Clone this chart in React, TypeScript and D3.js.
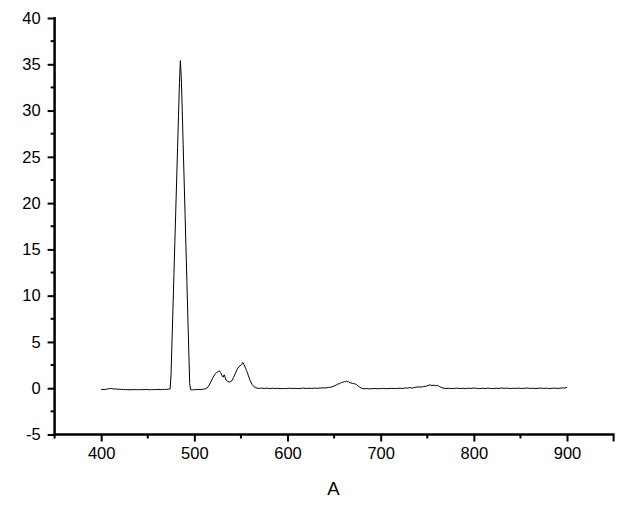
import { useEffect, useRef } from 'react';
import * as d3 from 'd3';

// [wavelength, intensity]
const SPECTRUM: [number, number][] = [
  [400, -0.15], [402, -0.12], [404, -0.14], [406, -0.1], [408, -0.06], [410, -0.02],
  [412, -0.05], [414, -0.09], [416, -0.07], [418, -0.12], [420, -0.1], [422, -0.14],
  [424, -0.13], [426, -0.16], [428, -0.14], [430, -0.17], [432, -0.15], [434, -0.17],
  [436, -0.14], [438, -0.16], [440, -0.15], [442, -0.17], [444, -0.14], [446, -0.16],
  [448, -0.13], [450, -0.15], [452, -0.17], [454, -0.14], [456, -0.16], [458, -0.13],
  [460, -0.15], [462, -0.12], [464, -0.15], [466, -0.13], [468, -0.14], [470, -0.12],
  [472, -0.1], [474, -0.08],
  [475, 1.5], [476, 5], [477, 8.5], [478, 12], [479, 15.5], [480, 19], [481, 22.5],
  [482, 26], [483, 29.5], [484, 33], [485, 35.4], [486, 33.5], [487, 30], [488, 26.3],
  [489, 22.6], [490, 18.9], [491, 15.2], [492, 11.5], [493, 7.8], [494, 4.1], [495, 0.5],
  [496, -0.15], [498, -0.18], [500, -0.16], [502, -0.14], [504, -0.15], [506, -0.12],
  [508, -0.13], [510, -0.1], [512, -0.05], [514, 0.05], [516, 0.35], [518, 0.75],
  [520, 1.15], [522, 1.5], [524, 1.7], [526, 1.82], [527, 1.88], [528, 1.7], [529, 1.55],
  [530, 1.3], [531, 1.2], [532, 1.45], [533, 1.2], [534, 0.9], [536, 0.72], [538, 0.66],
  [540, 0.78], [542, 1.15], [544, 1.6], [546, 2.05], [548, 2.35], [550, 2.48], [551, 2.6],
  [552, 2.78], [553, 2.6], [554, 2.4], [555, 2.15], [556, 1.9], [557, 1.7], [558, 1.35],
  [560, 0.8], [562, 0.4], [564, 0.15], [566, 0.05], [568, 0], [570, -0.02],
  [572, 0.02], [575, -0.03], [578, 0.01], [581, -0.04], [584, 0], [587, -0.03],
  [590, -0.01], [593, -0.05], [596, -0.02], [599, -0.04], [602, 0], [605, -0.03],
  [608, -0.01], [611, -0.04], [614, -0.02], [617, 0.01], [620, -0.03], [623, 0],
  [626, -0.02], [629, 0.01], [632, -0.01], [635, 0.02], [638, 0.04], [641, 0.03],
  [644, 0.08], [647, 0.12], [650, 0.25], [652, 0.32], [654, 0.45], [656, 0.5],
  [658, 0.62], [660, 0.66], [661, 0.72], [662, 0.68], [663, 0.78], [664, 0.7],
  [665, 0.74], [666, 0.62], [668, 0.58], [670, 0.52], [672, 0.48], [674, 0.4],
  [676, 0.22], [678, 0.08], [680, -0.02], [682, -0.06], [685, -0.04], [688, -0.07],
  [691, -0.05], [694, -0.03], [697, -0.06], [700, -0.04], [703, -0.02], [706, -0.05],
  [709, -0.03], [712, -0.01], [715, -0.04], [718, -0.02], [721, 0], [724, -0.03],
  [726, 0.04], [728, 0], [731, 0.06], [734, 0.02], [737, 0.1], [740, 0.14],
  [743, 0.12], [746, 0.18], [749, 0.22], [751, 0.3], [753, 0.36], [755, 0.28],
  [757, 0.34], [759, 0.26], [761, 0.3], [763, 0.18], [765, 0.08], [767, 0.02],
  [770, -0.03], [773, 0], [776, -0.04], [779, -0.02], [782, 0.01], [785, -0.03],
  [788, -0.01], [791, -0.04], [794, 0], [797, -0.02], [800, 0.02], [803, -0.01],
  [806, -0.04], [809, 0], [812, -0.03], [815, 0.01], [818, -0.02], [821, -0.04],
  [824, 0], [827, -0.02], [830, 0.02], [833, -0.01], [836, 0.01], [839, -0.03],
  [842, 0], [845, -0.02], [848, 0.01], [851, -0.03], [854, -0.01], [857, 0.02],
  [860, -0.02], [863, 0], [866, -0.03], [869, -0.01], [872, 0.01], [875, -0.02],
  [878, 0], [881, -0.03], [884, -0.01], [887, 0.01], [890, -0.02], [893, 0],
  [896, 0.04], [898, 0.02], [900, 0.12],
];

const X_DOMAIN = [350, 950];
const Y_DOMAIN = [-5, 40];
const X_MAJOR = [400, 500, 600, 700, 800, 900];
const X_MINOR = [350, 450, 550, 650, 750, 850, 950];
const Y_MAJOR = [-5, 0, 5, 10, 15, 20, 25, 30, 35, 40];
const Y_MINOR = [-2.5, 2.5, 7.5, 12.5, 17.5, 22.5, 27.5, 32.5, 37.5];
const X_TITLE = 'A';

export default function App() {
  const svgRef = useRef<SVGSVGElement | null>(null);

  useEffect(() => {
    if (!svgRef.current) return;
    const W = 624;
    const H = 507;
    const FONT = 'Arial, "Liberation Sans", sans-serif';

    const svg = d3.select(svgRef.current);
    svg.selectAll('*').remove();
    svg.attr('width', W).attr('height', H).attr('viewBox', `0 0 ${W} ${H}`);

    svg.append('rect').attr('width', W).attr('height', H).attr('fill', '#fff');

    const x = d3.scaleLinear().domain(X_DOMAIN).range([54.6, 613.6]);
    const y = d3.scaleLinear().domain(Y_DOMAIN).range([434.5, 18]);

    // spectrum
    const line = d3.line<[number, number]>()
      .x(d => x(d[0]))
      .y(d => y(d[1]));

    svg.append('path')
      .datum(SPECTRUM)
      .attr('d', line)
      .attr('fill', 'none')
      .attr('stroke', '#000')
      .attr('stroke-width', 1)
      .attr('stroke-linejoin', 'round');

    // Y axis
    const yAxis = d3.axisLeft(y)
      .tickValues(Y_MAJOR)
      .tickSize(7)
      .tickPadding(7)
      .tickFormat(d => String(d));

    svg.append('g')
      .attr('transform', `translate(${x(X_DOMAIN[0])},0)`)
      .call(yAxis)
      .call(g => g.select('.domain').remove())
      .call(g => g.selectAll('.tick line').attr('stroke', '#000').attr('stroke-width', 2))
      .call(g => g.selectAll('.tick text')
        .attr('fill', '#000').attr('font-size', 16.5).attr('font-family', FONT));

    svg.append('g')
      .selectAll('line')
      .data(Y_MINOR)
      .join('line')
      .attr('x1', x(X_DOMAIN[0]) - 4).attr('x2', x(X_DOMAIN[0]))
      .attr('y1', d => y(d)).attr('y2', d => y(d))
      .attr('stroke', '#000').attr('stroke-width', 2);

    // X axis
    const xAxis = d3.axisBottom(x)
      .tickValues(X_MAJOR)
      .tickSize(7)
      .tickPadding(6)
      .tickFormat(d => String(d));

    svg.append('g')
      .attr('transform', `translate(0,${y(Y_DOMAIN[0])})`)
      .call(xAxis)
      .call(g => g.select('.domain').remove())
      .call(g => g.selectAll('.tick line').attr('stroke', '#000').attr('stroke-width', 2))
      .call(g => g.selectAll('.tick text')
        .attr('fill', '#000').attr('font-size', 16.5).attr('font-family', FONT));

    svg.append('g')
      .selectAll('line')
      .data(X_MINOR)
      .join('line')
      .attr('x1', d => x(d)).attr('x2', d => x(d))
      .attr('y1', y(Y_DOMAIN[0])).attr('y2', d => y(Y_DOMAIN[0]) + (d === X_DOMAIN[1] ? 7 : 4))
      .attr('stroke', '#000').attr('stroke-width', 2);

    // axis lines
    svg.append('line')
      .attr('x1', x(X_DOMAIN[0])).attr('x2', x(X_DOMAIN[0]))
      .attr('y1', y(Y_DOMAIN[1]) - 1).attr('y2', y(Y_DOMAIN[0]) + 1)
      .attr('stroke', '#000').attr('stroke-width', 2.5);

    svg.append('line')
      .attr('x1', x(X_DOMAIN[0]) - 1).attr('x2', x(X_DOMAIN[1]) + 1)
      .attr('y1', y(Y_DOMAIN[0])).attr('y2', y(Y_DOMAIN[0]))
      .attr('stroke', '#000').attr('stroke-width', 2.5);

    // axis title
    svg.append('text')
      .attr('x', 333.5)
      .attr('y', 495)
      .attr('text-anchor', 'middle')
      .attr('font-size', 18.5)
      .attr('font-family', FONT)
      .attr('fill', '#000')
      .text(X_TITLE);
  }, []);

  return (
    <svg ref={svgRef} style={{ position: 'absolute', left: 0, top: 0, display: 'block' }} />
  );
}
